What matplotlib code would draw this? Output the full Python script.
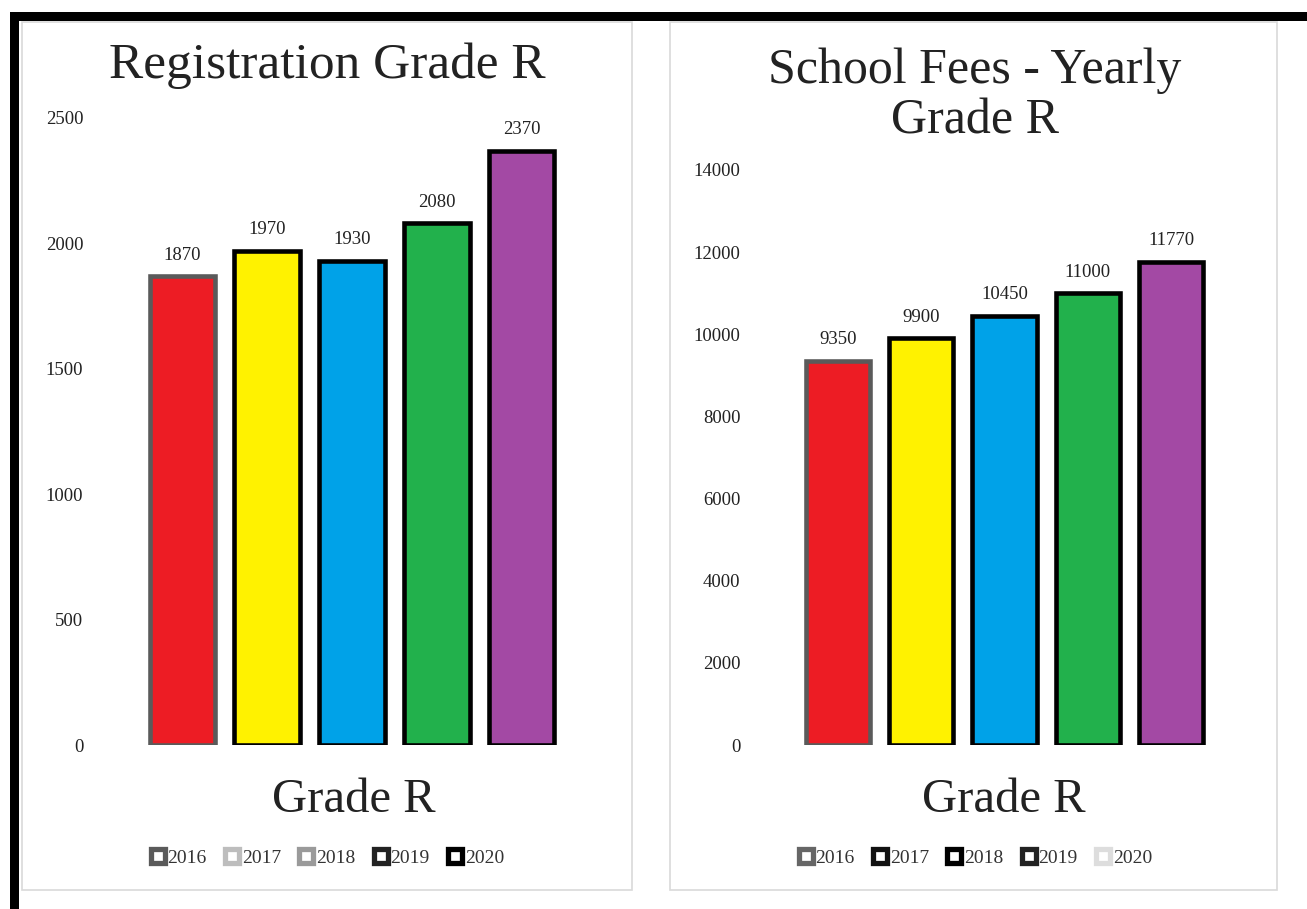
import matplotlib
matplotlib.use("Agg")
import matplotlib.pyplot as plt
from matplotlib.patches import Rectangle
from matplotlib.lines import Line2D

plt.rcParams['font.family'] = ['Liberation Serif', 'DejaVu Serif']

years = ["2016", "2017", "2018", "2019", "2020"]
registration = [1870, 1970, 1930, 2080, 2370]
fees = [9350, 9900, 10450, 11000, 11770]
bar_colors = ["#ED1C24", "#FFF200", "#00A2E8", "#22B14C", "#A349A4"]
bar_edges = ["#5a5a5a", "#000000", "#000000", "#000000", "#000000"]
legend_left = ["#5a5a5a", "#bdbdbd", "#9a9a9a", "#222222", "#000000"]
legend_right = ["#666666", "#111111", "#000000", "#222222", "#dddddd"]
reg_ticks = [0, 500, 1000, 1500, 2000, 2500]
fee_ticks = [0, 2000, 4000, 6000, 8000, 10000, 12000, 14000]

W, H = 1307, 909
fig = plt.figure(figsize=(W / 100, H / 100), dpi=100)

def fx(px):
    return px / W

def fy(py):
    return 1 - py / H

# panel boxes
for x0, x1 in [(22, 632), (670, 1277)]:
    fig.add_artist(Rectangle((fx(x0), fy(890)), fx(x1 - x0), (890 - 22) / H,
                             transform=fig.transFigure, facecolor="white",
                             edgecolor="#d9d9d9", lw=1.2, zorder=0))
# black frame
fig.add_artist(Rectangle((fx(10), fy(21)), fx(W - 10), 9 / H, transform=fig.transFigure,
                         facecolor="black", edgecolor="none", zorder=5))
fig.add_artist(Rectangle((fx(10), 0), fx(9), fy(12), transform=fig.transFigure,
                         facecolor="black", edgecolor="none", zorder=5))


def panel(rect, values, ymax, ticks, title, title_x, title_y, title_fs, legend_cols, legend_x, xlabel_x):
    ax = fig.add_axes(rect)
    x = list(range(len(values)))
    ax.bar(x, values, width=0.77, color=bar_colors, edgecolor=bar_edges, linewidth=3.3, zorder=3)
    for xi, v in zip(x, values):
        ax.annotate(str(v), (xi, v), xytext=(0, 9), textcoords="offset points",
                    ha="center", va="bottom", fontsize=13.5, color="#222222")
    ax.set_xlim(-0.97, 4.97)
    ax.set_ylim(0, ymax)
    ax.set_yticks(ticks)
    ax.set_yticklabels([str(t) for t in ticks])
    ax.set_xticks([])
    ax.tick_params(axis="y", length=0, labelsize=13.5, pad=12, labelcolor="#222222")
    for s in ax.spines.values():
        s.set_visible(False)
    ax.patch.set_alpha(0)
    fig.text(title_x, title_y, title, ha="center", va="center", fontsize=title_fs, color="#222222",
             linespacing=1.12)
    fig.text(xlabel_x, fy(800), "Grade R", ha="center", va="center", fontsize=35, color="#222222")
    handles = [Line2D([], [], marker="s", linestyle="none", markersize=10,
                      markerfacecolor="white", markeredgecolor=c, markeredgewidth=3.8)
               for c in legend_cols]
    fig.legend(handles, years, loc="center", bbox_to_anchor=(legend_x, fy(858)),
               ncol=5, frameon=False, fontsize=14, handlelength=0.8, handletextpad=0.1,
               columnspacing=0.9, labelcolor="#333333")
    return ax

panel([fx(100), fy(745), fx(504), (745 - 118) / H], registration, 2500, reg_ticks,
      "Registration Grade R", fx(327), fy(66), 37, legend_left, fx(327), fx(354))
panel([fx(757), fy(745), fx(495), (745 - 170) / H], fees, 14000, fee_ticks,
      "School Fees - Yearly\nGrade R", fx(975), fy(96), 36, legend_right, fx(975), fx(1004))

fig.savefig("out.png", dpi=100, facecolor="white")
